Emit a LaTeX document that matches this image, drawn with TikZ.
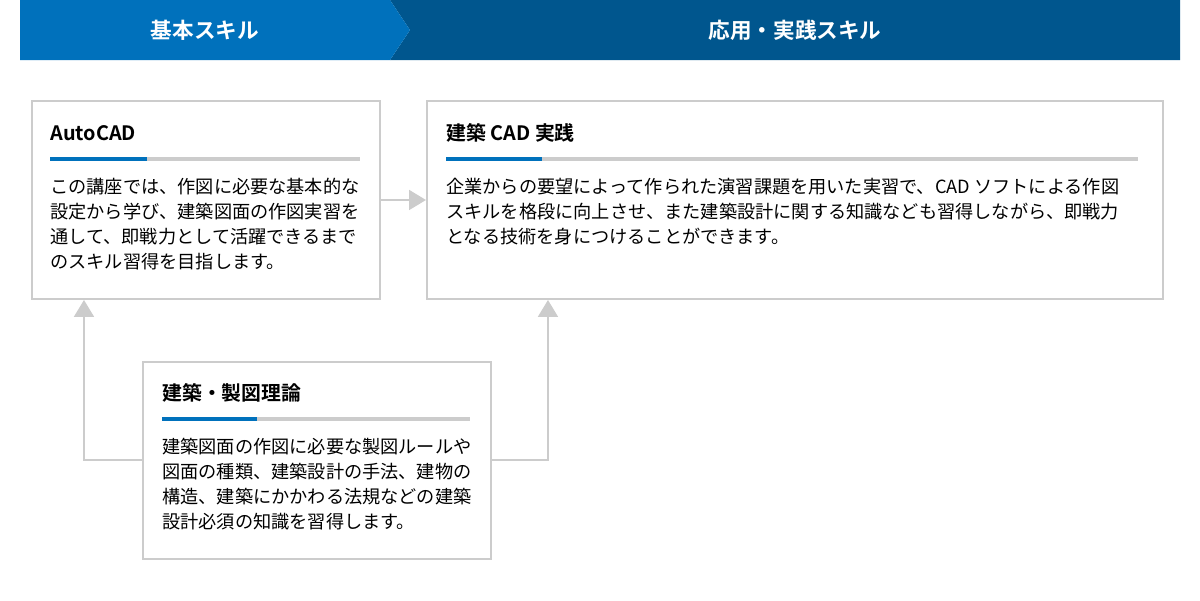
\documentclass[tikz,border=0pt]{standalone}
\usepackage{fontspec}
\setmainfont{Noto Sans CJK JP}[BoldFont={Noto Sans CJK JP Bold}]
\usepackage{xcolor}
\usetikzlibrary{arrows.meta, positioning}

\definecolor{skillblue}{HTML}{0071BC}
\definecolor{skilldark}{HTML}{00568E}
\definecolor{framegray}{HTML}{CCCCCC}

\begin{document}
\begin{tikzpicture}[x=0.02cm, y=-0.02cm, >={Triangle[length=0.34cm, width=0.4cm]}]
		\tikzstyle{card} = [draw=framegray, line width=0.04cm, fill=white, rectangle, anchor=north west, inner sep=0]
		\tikzstyle{head} = [text=white, font=\fontsize{12.3}{14}\selectfont\bfseries, inner sep=0]
		\tikzstyle{title} = [anchor=west, font=\fontsize{11.3}{14}\selectfont\bfseries, inner sep=0]
		\tikzstyle{body} = [anchor=north west, align=left, font=\fontsize{10.35}{14.23}\selectfont, inner sep=0]
		\tikzstyle{link} = [draw=framegray, line width=0.04cm, ->, color=framegray]
		\tikzstyle{bar} = [line width=0.08cm]
		
		\useasboundingbox (0,0) rectangle (1200,600);
		
		% header
		\fill[skilldark] (390,0) -- (1180,0) -- (1180,60) -- (390,60) -- (410,30) -- cycle;
		\fill[skillblue] (20,0) -- (390,0) -- (410,30) -- (390,60) -- (20,60) -- cycle;
		\node[head] 	at (205, 30) 	(basic) 	{基本スキル};
		\node[head] 	at (795, 30) 	(applied) 	{応用・実践スキル};
		
		% boxes
		\node[card, minimum width=6.96cm, minimum height=3.96cm] 	at (31, 100) 	(auto) 	{};
		\node[card, minimum width=14.72cm, minimum height=3.96cm] 	at (426, 100) 	(cad) 	{};
		\node[card, minimum width=6.96cm, minimum height=3.94cm] 	at (142, 361) 	(theory) 	{};
		
		\node[title] 	at (50, 133) 	(autotitle) 	{AutoCAD};
		\draw[bar, framegray] (50, 159) -- (360, 159);
		\draw[bar, skillblue] (50, 159) -- (147, 159);
		\node[body] 	at (50, 178) 	(autotext) 	{この講座では、作図に必要な基本的な\\設定から学び、建築図面の作図実習を\\通して、即戦力として活躍できるまで\\のスキル習得を目指します。};
		
		\node[title] 	at (446, 133) 	(cadtitle) 	{建築 CAD 実践};
		\draw[bar, framegray] (446, 159) -- (1138, 159);
		\draw[bar, skillblue] (446, 159) -- (542, 159);
		\node[body] 	at (446, 178) 	(cadtext) 	{企業からの要望によって作られた演習課題を用いた実習で、CAD ソフトによる作図\\スキルを格段に向上させ、また建築設計に関する知識なども習得しながら、即戦力\\となる技術を身につけることができます。};
		
		\node[title] 	at (162, 393) 	(theorytitle) 	{建築・製図理論};
		\draw[bar, framegray] (162, 419) -- (470, 419);
		\draw[bar, skillblue] (162, 419) -- (257, 419);
		\node[body] 	at (162, 438) 	(theorytext) 	{建築図面の作図に必要な製図ルールや\\図面の種類、建築設計の手法、建物の\\構造、建築にかかわる法規などの建築\\設計必須の知識を習得します。};
		
		% connectors
		\path[link] (auto.east) -- (cad.west);
		\path[link] (theory.west) -| ([xshift=1.06cm]auto.south west);
		\path[link] (theory.east) -| ([xshift=2.44cm]cad.south west);
\end{tikzpicture}
\end{document}
